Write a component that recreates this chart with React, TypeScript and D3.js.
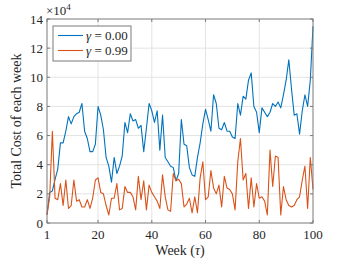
import React from 'react';
import * as d3 from 'd3';

const weeks = d3.range(1, 101);

const costGamma000 = [
  0.6, 2.1, 2.2, 3.0, 3.7, 5.5, 5.5, 6.3, 7.3, 6.8,
  7.3, 7.5, 7.6, 8.2, 6.3, 5.8, 4.9, 4.9, 5.4, 8.0,
  7.4, 6.4, 4.5, 3.9, 2.8, 4.5, 3.4, 3.9, 4.6, 6.9,
  6.2, 7.5, 7.0, 7.1, 6.5, 6.7, 4.9, 6.5, 8.2, 7.7,
  6.9, 7.7, 5.0, 7.4, 4.5, 4.2, 3.9, 3.8, 2.9, 3.4,
  7.1, 5.4, 5.3, 3.8, 3.3, 3.2, 4.5, 5.5, 6.8, 7.8,
  7.1, 6.3, 8.8, 8.2, 6.5, 6.4, 6.9, 6.3, 6.3, 5.9,
  5.8, 8.2, 7.4, 8.7, 8.5, 9.8, 10.3, 8.0, 7.6, 6.2,
  7.9, 7.6, 7.3, 7.6, 8.2, 8.0, 8.3, 7.9, 8.8, 9.8,
  11.2, 9.2, 7.4, 7.5, 6.1, 7.7, 8.8, 8.0, 9.8, 13.5,
];

const costGamma099 = [
  0.55, 1.8, 6.3, 1.7, 1.6, 2.7, 1.2, 2.95, 1.0, 1.2,
  2.95, 1.5, 1.6, 1.1, 1.1, 1.6, 1.0, 1.7, 2.95, 3.1,
  2.1, 2.0, 1.2, 0.55, 1.7, 1.7, 2.7, 0.9, 1.0, 2.5,
  2.1, 2.1, 1.8, 0.9, 3.2, 1.6, 2.9, 0.9, 2.6, 2.1,
  1.8, 1.5, 1.0, 3.3, 1.8, 0.9, 0.8, 3.4, 2.9, 3.0,
  2.7, 1.1, 1.3, 1.7, 0.7, 1.8, 0.7, 3.1, 4.2, 1.6,
  1.8, 3.6, 2.4, 2.0, 2.6, 1.1, 3.2, 2.4, 2.3, 2.0,
  0.9, 4.2, 5.8, 2.95, 3.4, 1.0, 3.1, 1.1, 2.7, 1.7,
  1.8, 1.5, 0.55, 5.0, 2.5, 4.6, 4.5, 0.55, 2.5, 1.6,
  1.2, 1.1, 1.2, 1.6, 1.8, 2.95, 3.9, 1.0, 4.5, 2.3,
];

const xTicks = [1, 20, 40, 60, 80, 100];
const yTicks = [0, 2, 4, 6, 8, 10, 12, 14];
const seriesNames = ['0.00', '0.99'];
const seriesColors = ['#0072BD', '#D95319'];

const W = 346;
const H = 260;
const margin = { left: 47, right: 33, top: 19, bottom: 37 };
const font = "'Liberation Serif', 'Times New Roman', 'DejaVu Serif', serif";
const axisColor = '#7a7a7a';
const textColor = '#262626';

const App: React.FC = () => {
  const x = d3.scaleLinear().domain([1, 100]).range([margin.left, W - margin.right]);
  const y = d3.scaleLinear().domain([0, 14]).range([H - margin.bottom, margin.top]);
  const line = d3.line<number>().x((_, i) => x(weeks[i])).y(d => y(d));
  const series = [costGamma000, costGamma099];
  const x0 = x.range()[0], x1 = x.range()[1];
  const y0 = y.range()[0], y1 = y.range()[1];
  const tick = 3;

  return (
    <svg width={W} height={H} style={{ position: 'absolute', left: 0, top: 0, background: '#fff', fontFamily: font }}>
      {/* grid */}
      {xTicks.filter(t => t !== 1 && t !== 100).map(t => (
        <line key={'gx' + t} x1={x(t)} x2={x(t)} y1={y0} y2={y1} stroke="#e3e3e3" strokeWidth={1} />
      ))}
      {yTicks.filter(t => t !== 0 && t !== 14).map(t => (
        <line key={'gy' + t} x1={x0} x2={x1} y1={y(t)} y2={y(t)} stroke="#e3e3e3" strokeWidth={1} />
      ))}

      {/* series */}
      {series.map((s, i) => (
        <path key={'s' + i} d={line(s) || ''} fill="none" stroke={seriesColors[i]} strokeWidth={1.1} strokeLinejoin="round" />
      ))}

      {/* box + ticks */}
      <rect x={x0} y={y1} width={x1 - x0} height={y0 - y1} fill="none" stroke={axisColor} strokeWidth={1} />
      {xTicks.map(t => (
        <g key={'tx' + t}>
          <line x1={x(t)} x2={x(t)} y1={y0} y2={y0 - tick} stroke={axisColor} />
          <line x1={x(t)} x2={x(t)} y1={y1} y2={y1 + tick} stroke={axisColor} />
          <text x={x(t)} y={y0 + 16} textAnchor="middle" fontSize={13} fill={textColor}>{t}</text>
        </g>
      ))}
      {yTicks.map(t => (
        <g key={'ty' + t}>
          <line x1={x0} x2={x0 + tick} y1={y(t)} y2={y(t)} stroke={axisColor} />
          <line x1={x1} x2={x1 - tick} y1={y(t)} y2={y(t)} stroke={axisColor} />
          <text x={x0 - 4} y={y(t) + 4.5} textAnchor="end" fontSize={13} fill={textColor}>{t}</text>
        </g>
      ))}

      {/* exponent */}
      <text x={x0 - 1} y={y1 - 4} fontSize={13} fill={textColor}>
        ×10<tspan dy={-5} fontSize={9}>4</tspan>
      </text>

      {/* axis labels */}
      <text x={(x0 + x1) / 2} y={H - 5} textAnchor="middle" fontSize={14} fill={textColor}>
        Week (<tspan fontStyle="italic">τ</tspan>)
      </text>
      <text transform={`translate(21,${(y0 + y1) / 2}) rotate(-90)`} textAnchor="middle" fontSize={14} fill={textColor}>
        Total Cost of each week
      </text>

      {/* legend */}
      <rect x={53} y={26} width={78} height={35} fill="#fff" stroke={axisColor} strokeWidth={1} />
      {seriesNames.map((n, i) => (
        <g key={'lg' + i}>
          <line x1={58} x2={83} y1={35.5 + i * 15} y2={35.5 + i * 15} stroke={seriesColors[i]} strokeWidth={1.1} />
          <text x={86} y={40 + i * 15} fontSize={13} fill={textColor}>
            <tspan fontStyle="italic">γ</tspan> = {n}
          </text>
        </g>
      ))}
    </svg>
  );
};

export default App;
